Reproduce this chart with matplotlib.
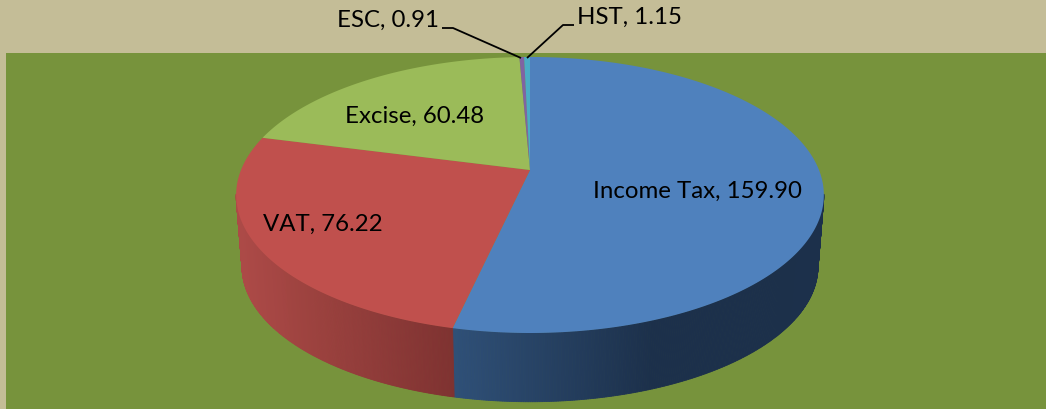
import numpy as np
import matplotlib
matplotlib.use("Agg")
import matplotlib.pyplot as plt
from matplotlib.colors import to_rgb

taxes = ["Income Tax", "VAT", "Excise", "ESC", "HST"]
amounts = [159.90, 76.22, 60.48, 0.91, 1.15]

top_colors = ["#4F81BD", "#C0504D", "#9BBB59", "#8064A2", "#4BACC6"]
bg = "#C4BD97"
panel = "#77933C"

# pie geometry in pixels, the tilt is a perspective projection of a circle
cx, cy = 530, 170
R, S, k = 289, 133.5, 0.181
depth, shrink = 72, 0.98


def project(theta):
    # theta in degrees, clockwise from 12 o'clock
    t = np.radians(theta)
    w = 1 + k * np.cos(t)
    return R * np.sin(t) / w, -S * np.cos(t) / w


def lower(x, y):
    return cx + x * shrink, cy + y * shrink + depth


plt.rcParams["font.family"] = ["Lato", "DejaVu Sans"]
fig = plt.figure(figsize=(10.46, 4.09), dpi=100, facecolor=bg)
ax = fig.add_axes([0, 0, 1, 1])
ax.set_xlim(0, 1046)
ax.set_ylim(409, 0)
ax.axis("off")

ax.fill([6, 1046, 1046, 6], [53, 53, 409, 409], color=panel, lw=0, zorder=1)

edges = np.concatenate([[0], np.cumsum(amounts)]) / np.sum(amounts) * 360


def side_shade(i, x):
    # side wall goes darker towards the right of each slice
    if i == 0:
        f = np.clip((x - 453) / 200, 0, 1)
        c0, c1 = to_rgb("#2F5078"), to_rgb("#1C304B")
    else:
        f = np.clip((x - 240) / 213, 0, 1)
        c0, c1 = to_rgb("#AC4A47"), to_rgb("#7F3231")
    return tuple(np.array(c0) * (1 - f) + np.array(c1) * f)


# side walls of the two big slices, only the part that faces the viewer
for i in range(2):
    start = max(edges[i], 100)
    stop = min(edges[i + 1], 260)
    steps = np.linspace(start, stop, 240)
    for a, b in zip(steps[:-1], steps[1:]):
        xa, ya = project(a)
        xb, yb = project(b)
        xa2, ya2 = lower(xa, ya)
        xb2, yb2 = lower(xb, yb)
        col = side_shade(i, cx + (xa + xb) / 2)
        ax.fill([cx + xa, cx + xb, xb2, xa2], [cy + ya, cy + yb, yb2, ya2],
                facecolor=col, edgecolor=col, lw=0.6, zorder=2)

# top faces
for i in range(len(amounts)):
    th = np.linspace(edges[i], edges[i + 1], 300)
    x, y = project(th)
    ax.fill(np.r_[cx, cx + x], np.r_[cy, cy + y], facecolor=top_colors[i],
            edgecolor="none", lw=0, zorder=3)

fs = 17.3
ax.text(697, 191, f"{taxes[0]}, {amounts[0]:.2f}", fontsize=fs, ha="center", va="center", zorder=5)
ax.text(323, 224, f"{taxes[1]}, {amounts[1]:.2f}", fontsize=fs, ha="center", va="center", zorder=5)
ax.text(415, 116, f"{taxes[2]}, {amounts[2]:.2f}", fontsize=fs, ha="center", va="center", zorder=5)
ax.text(388, 20, f"{taxes[3]}, {amounts[3]:.2f}", fontsize=fs, ha="center", va="center", zorder=5)
ax.text(629, 17, f"{taxes[4]}, {amounts[4]:.2f}", fontsize=fs, ha="center", va="center", zorder=5)

ax.plot([442, 453, 521], [28, 28, 58], color="black", lw=1.3, zorder=6, solid_capstyle="butt")
ax.plot([574, 563, 527], [25, 25, 58], color="black", lw=1.3, zorder=6, solid_capstyle="butt")

fig.savefig("out.png", dpi=100, facecolor=bg)
